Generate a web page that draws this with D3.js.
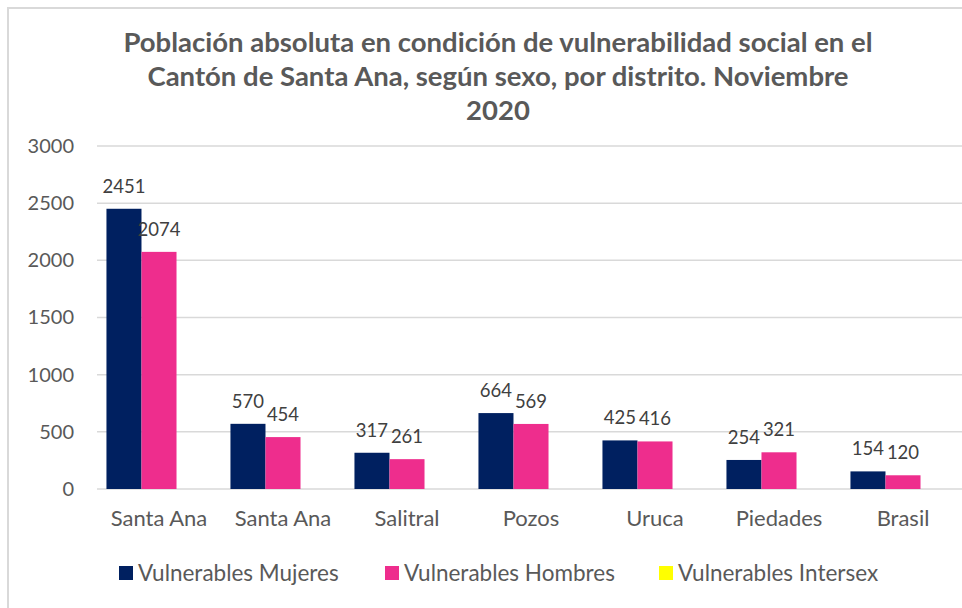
<!DOCTYPE html>
<html lang="es">
<head>
    <meta charset="UTF-8">
    <script src="https://d3js.org/d3.v7.min.js"></script>
    <style>
        body { margin: 0; background: #fff; font-family: Lato, "Open Sans", sans-serif; }
        svg { display: block; }
    </style>
</head>
<body>
    <div id="chart"></div>
    <script>
        // Datos
        const distritos = ["Santa Ana", "Santa Ana", "Salitral", "Pozos", "Uruca", "Piedades", "Brasil"];
        const series = ["Vulnerables Mujeres", "Vulnerables Hombres", "Vulnerables Intersex"];
        const mujeres = [2451, 570, 317, 664, 425, 254, 154];
        const hombres = [2074, 454, 261, 569, 416, 321, 120];
        const intersex = [0, 0, 0, 0, 0, 0, 0];
        const yTicks = [0, 500, 1000, 1500, 2000, 2500, 3000];
        const titulo = [
            "Población absoluta en condición de vulnerabilidad social en el",
            "Cantón de Santa Ana, según sexo, por distrito. Noviembre",
            "2020"
        ];
        const colores = ["#002060", "#EE2D8D", "#FFFF00"];

        const width = 962, height = 608;
        const margin = { top: 146, right: -3, bottom: 119, left: 97 };
        const textColor = "#595959";

        const svg = d3.select("#chart").append("svg")
            .attr("width", width)
            .attr("height", height);

        // borde del gráfico
        svg.append("path")
            .attr("d", `M8,${height + 5}V8H${width + 5}`)
            .attr("fill", "none")
            .attr("stroke", "#d9d9d9")
            .attr("stroke-width", 2);

        // título
        svg.append("g").selectAll("text")
            .data(titulo)
            .enter().append("text")
            .attr("x", 498)
            .attr("y", (d, i) => 52 + i * 34)
            .attr("text-anchor", "middle")
            .attr("font-size", 27.5)
            .attr("font-weight", "bold")
            .attr("fill", textColor)
            .text(d => d);

        const datos = distritos.map((d, i) => ({
            key: i, nombre: d, valores: [mujeres[i], hombres[i], intersex[i]]
        }));

        const x = d3.scaleBand()
            .domain(datos.map(d => d.key))
            .range([margin.left, width - margin.right])
            .padding(0);

        const xSub = d3.scaleBand()
            .domain(series)
            .range([0, x.bandwidth()])
            .paddingInner(0)
            .paddingOuter(0.27);

        const y = d3.scaleLinear()
            .domain([0, 3000])
            .range([height - margin.bottom, margin.top]);

        // líneas de cuadrícula
        svg.append("g")
            .selectAll("line")
            .data(yTicks)
            .enter().append("line")
            .attr("x1", margin.left)
            .attr("x2", width)
            .attr("y1", d => y(d))
            .attr("y2", d => y(d))
            .attr("stroke", "#d9d9d9")
            .attr("stroke-width", 1.5);

        // eje Y
        const yAxis = svg.append("g")
            .attr("transform", `translate(${margin.left - 23},0)`)
            .call(d3.axisLeft(y).tickValues(yTicks).tickFormat(d3.format("d")).tickSize(0).tickPadding(0));
        yAxis.select(".domain").remove();
        yAxis.selectAll("text")
            .attr("font-family", "Lato, sans-serif")
            .attr("font-size", 20)
            .attr("fill", textColor);

        // eje X
        const xAxis = svg.append("g")
            .attr("transform", `translate(0,${height - margin.bottom})`)
            .call(d3.axisBottom(x).tickFormat(i => distritos[i]).tickSize(0).tickPadding(21));
        xAxis.select(".domain").remove();
        xAxis.selectAll("text")
            .attr("font-family", "Lato, sans-serif")
            .attr("font-size", 22)
            .attr("fill", textColor);

        // barras
        const grupos = svg.append("g")
            .selectAll("g")
            .data(datos)
            .enter().append("g")
            .attr("transform", d => `translate(${x(d.key)},0)`);

        grupos.selectAll("rect")
            .data(d => d.valores.map((v, j) => ({ serie: series[j], v, j })))
            .enter().append("rect")
            .attr("x", d => xSub(d.serie))
            .attr("y", d => y(d.v))
            .attr("width", xSub.bandwidth())
            .attr("height", d => y(0) - y(d.v))
            .attr("fill", d => colores[d.j]);

        // etiquetas de datos
        grupos.selectAll("text")
            .data(d => d.valores.map((v, j) => ({ serie: series[j], v, j })).filter(d => d.v > 0))
            .enter().append("text")
            .attr("x", d => xSub(d.serie) + xSub.bandwidth() / 2)
            .attr("y", d => y(d.v) - 16)
            .attr("text-anchor", "middle")
            .attr("font-size", 18.5)
            .attr("fill", "#404040")
            .text(d => d.v);

        // leyenda
        const legendX = [119, 385, 659];
        const leyenda = svg.append("g")
            .selectAll("g")
            .data(series)
            .enter().append("g")
            .attr("transform", (d, i) => `translate(${legendX[i]},566)`);
        leyenda.append("rect")
            .attr("width", 14)
            .attr("height", 14)
            .attr("fill", (d, i) => colores[i]);
        leyenda.append("text")
            .attr("x", 19)
            .attr("y", 15)
            .attr("font-size", 22.5)
            .attr("fill", textColor)
            .text(d => d);
    </script>
</body>
</html>
